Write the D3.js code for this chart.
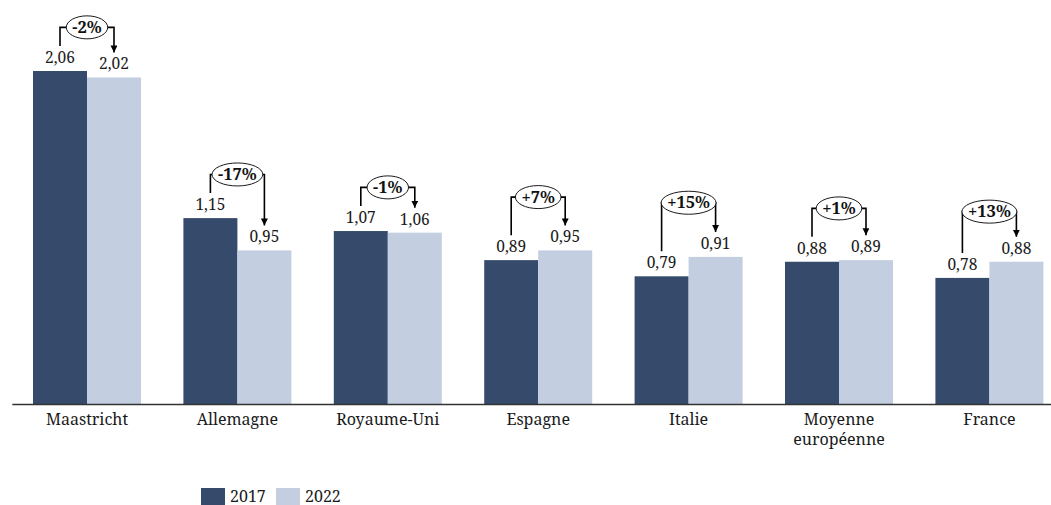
<!DOCTYPE html>
<html>
<head>
<meta charset="utf-8">
<script src="https://d3js.org/d3.v7.min.js"></script>
<style>
  body { margin: 0; background: #fff; }
</style>
</head>
<body>
<div id="chart"></div>
<script>
// data
var categories = ["Maastricht", "Allemagne", "Royaume-Uni", "Espagne", "Italie", "Moyenne européenne", "France"];
var values2017 = [2.06, 1.15, 1.07, 0.89, 0.79, 0.88, 0.78];
var values2022 = [2.02, 0.95, 1.06, 0.95, 0.91, 0.89, 0.88];
var changeLabels = ["-2%", "-17%", "-1%", "+7%", "+15%", "+1%", "+13%"];
// height of each change bracket, in value units
var bracketLevels = [2.33, 1.42, 1.34, 1.28, 1.245, 1.21, 1.19];
var years = ["2017", "2022"];

var width = 1051, height = 505;
var colors = { "2017": "#364b6b", "2022": "#c3cee1" };

var svg = d3.select("#chart").append("svg")
    .attr("width", width)
    .attr("height", height)
    .style("font-family", "'Noto Serif', 'Liberation Serif', serif");

var rows = categories.map(function(c, i) {
    return { cat: c, v: [values2017[i], values2022[i]], change: changeLabels[i], level: bracketLevels[i] };
});

// scales
var x0 = d3.scaleBand()
    .domain(categories)
    .range([11.8, 1064.6])
    .paddingInner(0.282)
    .paddingOuter(0.141);
var x1 = d3.scaleBand().domain(years).range([0, x0.bandwidth()]);
var y = d3.scaleLinear().domain([0, 2.06]).range([404, 71]);

var fmt = function(v) { return d3.format(".2f")(v).replace(".", ","); };

// bars
var groups = svg.selectAll(".grp")
    .data(rows)
    .enter().append("g")
    .attr("class", "grp")
    .attr("transform", function(d) { return "translate(" + x0(d.cat) + ",0)"; });

groups.selectAll("rect")
    .data(function(d) { return years.map(function(yr, j) { return { yr: yr, v: d.v[j] }; }); })
    .enter().append("rect")
    .attr("x", function(d) { return x1(d.yr); })
    .attr("y", function(d) { return y(d.v); })
    .attr("width", x1.bandwidth())
    .attr("height", function(d) { return y(0) - y(d.v); })
    .attr("fill", function(d) { return colors[d.yr]; });

// value labels
groups.selectAll(".val")
    .data(function(d) { return years.map(function(yr, j) { return { yr: yr, v: d.v[j] }; }); })
    .enter().append("text")
    .attr("class", "val")
    .attr("x", function(d) { return x1(d.yr) + x1.bandwidth() / 2; })
    .attr("y", function(d) { return y(d.v) - 8; })
    .attr("text-anchor", "middle")
    .attr("font-size", 15.5)
    .attr("fill", "#1a1a1a")
    .text(function(d) { return fmt(d.v); });

// change brackets
var defs = svg.append("defs");
defs.append("marker")
    .attr("id", "arrow")
    .attr("viewBox", "0 0 10 10")
    .attr("refX", 10).attr("refY", 5)
    .attr("markerWidth", 7).attr("markerHeight", 7)
    .attr("markerUnits", "userSpaceOnUse")
    .attr("orient", "auto")
    .append("path")
    .attr("d", "M0,0 L10,5 L0,10 z")
    .attr("fill", "#000");

groups.each(function(d) {
    var g = d3.select(this);
    var xl = x1("2017") + x1.bandwidth() / 2;
    var xr = x1("2022") + x1.bandwidth() / 2;
    var yl = y(d.level);
    g.append("path")
        .attr("d", "M" + xl + "," + (y(d.v[0]) - 25) + "V" + yl + "H" + xr + "V" + (y(d.v[1]) - 25))
        .attr("fill", "none")
        .attr("stroke", "#000")
        .attr("stroke-width", 1.6)
        .attr("marker-end", "url(#arrow)");

    var t = g.append("text")
        .attr("x", x0.bandwidth() / 2)
        .attr("y", yl + 5.5)
        .attr("text-anchor", "middle")
        .attr("font-size", 16.5)
        .attr("font-weight", "bold")
        .attr("fill", "#111")
        .text(d.change);
    var w = t.node().getComputedTextLength();
    g.insert("ellipse", function() { return t.node(); })
        .attr("cx", x0.bandwidth() / 2)
        .attr("cy", yl)
        .attr("rx", w / 2 + 6)
        .attr("ry", 11.5)
        .attr("fill", "#fff")
        .attr("stroke", "#000")
        .attr("stroke-width", 0.9);
});

// x axis
var xAxis = svg.append("g")
    .attr("transform", "translate(0,404)")
    .call(d3.axisBottom(x0).tickSize(0).tickFormat(""));
xAxis.select(".domain").attr("stroke", "#333").attr("stroke-width", 1.3);

svg.selectAll(".cat")
    .data(categories)
    .enter().append("text")
    .attr("class", "cat")
    .attr("x", function(d) { return x0(d) + x0.bandwidth() / 2; })
    .attr("y", 425)
    .attr("text-anchor", "middle")
    .attr("font-size", 16)
    .attr("fill", "#1a1a1a")
    .each(function(d) {
        var words = d === "Moyenne européenne" ? ["Moyenne", "européenne"] : [d];
        var el = d3.select(this);
        words.forEach(function(wd, k) {
            el.append("tspan")
                .attr("x", x0(d) + x0.bandwidth() / 2)
                .attr("dy", k === 0 ? 0 : 20)
                .text(wd);
        });
    });

// legend
var legend = svg.selectAll(".leg")
    .data(years)
    .enter().append("g")
    .attr("class", "leg")
    .attr("transform", function(d, i) { return "translate(" + (201 + i * 75) + ",488)"; });
legend.append("rect")
    .attr("width", 24).attr("height", 20)
    .attr("fill", function(d) { return colors[d]; });
legend.append("text")
    .attr("x", 29).attr("y", 13.5)
    .attr("font-size", 16)
    .attr("fill", "#1a1a1a")
    .text(function(d) { return d; });
</script>
</body>
</html>
